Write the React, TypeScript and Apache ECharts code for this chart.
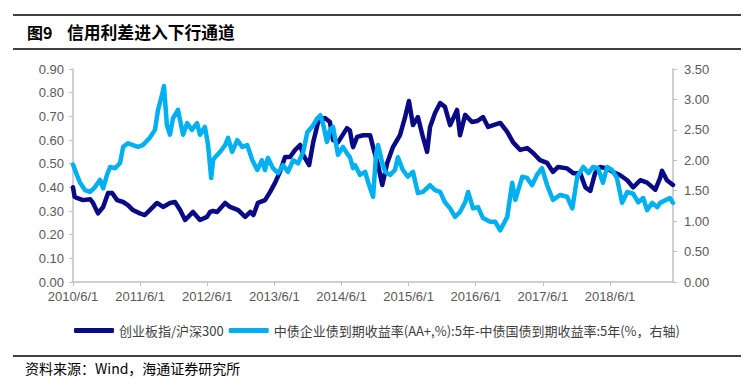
import React, { useEffect, useRef } from "react";
import * as echarts from "echarts";

const darkDates = [
  "2010-06-01","2010-06-10","2010-06-22","2010-07-25","2010-09-02","2010-09-18","2010-10-15","2010-11-12","2010-12-09","2010-12-31",
  "2011-01-27","2011-03-01","2011-03-27","2011-04-23","2011-05-31","2011-06-27","2011-07-24","2011-09-01","2011-10-04","2011-11-11",
  "2011-12-08","2012-01-05","2012-02-01","2012-03-15","2012-04-22","2012-05-30","2012-06-16","2012-07-02","2012-07-24","2012-09-06",
  "2012-10-03","2012-11-16","2012-12-24","2013-01-21","2013-02-07","2013-03-03","2013-04-11","2013-05-08","2013-06-05","2013-07-01",
  "2013-07-29","2013-08-25","2013-09-22","2013-10-19","2013-11-05","2013-12-07","2013-12-29","2014-01-25","2014-03-03","2014-03-30",
  "2014-04-16","2014-05-13","2014-07-01","2014-07-17","2014-07-28","2014-08-03","2014-08-25","2014-09-27","2014-11-04","2014-11-20",
  "2014-12-17","2015-01-09","2015-02-05","2015-03-08","2015-04-15","2015-05-12","2015-06-03","2015-06-25","2015-07-22","2015-08-18",
  "2015-09-10","2015-09-26","2015-10-23","2015-11-20","2015-12-16","2016-01-13","2016-02-20","2016-03-07","2016-04-04","2016-05-11",
  "2016-06-08","2016-07-10","2016-08-07","2016-09-04","2016-10-12","2016-11-19","2016-12-21","2017-01-29","2017-03-07","2017-04-09",
  "2017-05-16","2017-06-24","2017-07-26","2017-08-23","2017-10-11","2017-11-13","2017-12-21","2018-01-18","2018-02-14","2018-03-12",
  "2018-04-08","2018-05-16","2018-06-18","2018-07-25","2018-09-03","2018-10-05","2018-11-13","2018-12-20","2019-02-03","2019-03-01",
  "2019-03-11","2019-04-07","2019-05-10"
];
const darkValues = [
  0.40,0.36,0.355,0.346,0.35,0.334,0.29,0.317,0.376,0.376,
  0.346,0.338,0.325,0.304,0.29,0.283,0.304,0.334,0.317,0.334,
  0.338,0.304,0.262,0.296,0.262,0.275,0.296,0.30,0.296,0.334,
  0.317,0.304,0.275,0.296,0.283,0.334,0.346,0.38,0.42,0.465,
  0.528,0.528,0.558,0.579,0.536,0.494,0.59,0.676,0.693,0.676,
  0.60,0.59,0.65,0.64,0.59,0.57,0.613,0.62,0.62,0.57,
  0.494,0.41,0.503,0.57,0.62,0.693,0.765,0.663,0.697,0.613,
  0.55,0.655,0.714,0.756,0.74,0.663,0.727,0.62,0.706,0.676,
  0.68,0.697,0.655,0.663,0.672,0.634,0.59,0.558,0.566,0.545,
  0.515,0.503,0.465,0.486,0.48,0.46,0.46,0.40,0.385,0.46,
  0.486,0.48,0.465,0.452,0.43,0.40,0.43,0.42,0.39,0.44,
  0.47,0.43,0.41
];

const lightDates = [
  "2010-06-01","2010-06-22","2010-07-08","2010-08-05","2010-09-02","2010-09-29","2010-10-26","2010-11-12","2010-12-03","2010-12-20",
  "2011-01-16","2011-02-12","2011-03-01","2011-03-27","2011-04-23","2011-05-20","2011-06-16","2011-07-24","2011-08-21","2011-09-07",
  "2011-09-28","2011-10-09","2011-10-25","2011-11-11","2011-11-27","2011-12-24","2012-01-21","2012-02-12","2012-03-09","2012-04-06",
  "2012-04-22","2012-05-19","2012-06-05","2012-06-22","2012-07-02","2012-07-13","2012-08-10","2012-09-06","2012-09-22","2012-10-14",
  "2012-11-11","2012-12-08","2013-01-04","2013-02-01","2013-02-28","2013-03-25","2013-04-11","2013-04-27","2013-05-24","2013-06-21",
  "2013-07-18","2013-08-14","2013-09-11","2013-10-08","2013-11-05","2013-11-27","2013-12-23","2014-01-20","2014-02-06","2014-02-22",
  "2014-03-14","2014-03-30","2014-04-16","2014-05-13","2014-06-09","2014-07-06","2014-07-17","2014-08-03","2014-08-14","2014-09-10",
  "2014-10-08","2014-10-24","2014-11-20","2014-12-06","2014-12-17","2015-01-09","2015-01-25","2015-02-21","2015-03-19","2015-04-04",
  "2015-05-01","2015-05-28","2015-06-25","2015-07-22","2015-08-18","2015-09-26","2015-10-23","2015-11-20","2015-12-16","2016-01-13",
  "2016-02-09","2016-03-07","2016-04-04","2016-04-20","2016-05-17","2016-06-13","2016-07-10","2016-08-18","2016-09-14","2016-10-12",
  "2016-11-19","2016-12-16","2017-01-02","2017-02-09","2017-03-07","2017-04-03","2017-04-30","2017-05-27","2017-06-24","2017-07-26",
  "2017-09-03","2017-10-11","2017-11-08","2017-12-05","2018-01-07","2018-02-04","2018-03-01","2018-03-28","2018-04-24","2018-05-16",
  "2018-06-12","2018-07-09","2018-08-06","2018-09-03","2018-10-05","2018-11-02","2018-11-29","2018-12-20","2019-01-17","2019-02-14",
  "2019-03-01","2019-04-23","2019-05-10"
];
const lightValues = [
  1.93,1.76,1.64,1.51,1.48,1.56,1.68,1.54,1.76,1.89,
  1.87,1.955,2.22,2.28,2.25,2.22,2.25,2.37,2.50,2.83,
  3.07,3.22,2.58,2.42,2.69,2.83,2.42,2.61,2.50,2.61,
  2.42,2.55,2.25,1.71,2.00,2.05,2.14,2.25,2.37,2.14,
  2.33,2.22,2.25,2.00,1.84,2.00,1.84,2.04,1.87,1.79,
  1.92,1.81,2.00,1.95,2.14,2.46,2.55,2.69,2.74,2.58,
  2.30,2.50,2.55,2.09,2.22,2.09,2.05,1.87,1.92,1.76,
  1.81,1.64,1.40,2.09,2.25,1.955,1.81,1.76,1.84,2.05,
  1.84,1.73,1.81,1.46,1.48,1.59,1.51,1.48,1.31,1.21,
  1.07,1.15,1.31,1.48,1.21,1.23,1.05,0.99,0.99,0.85,
  1.07,1.63,1.35,1.73,1.71,1.59,1.76,1.87,1.59,1.35,
  1.43,1.40,1.21,1.73,1.89,1.79,1.89,1.87,1.63,1.89,
  1.84,1.71,1.30,1.48,1.45,1.31,1.38,1.18,1.30,1.23,
  1.30,1.38,1.30
];

const leftTicks = { min: 0, max: 0.9, interval: 0.1 };
const rightTicks = { min: 0, max: 3.5, interval: 0.5 };
const startDate = "2010-06-01";
const endDate = "2019-05-10";

const seriesNames = [
  "创业板指/沪深300",
  "中债企业债到期收益率(AA+,%):5年-中债国债到期收益率:5年(%，右轴)",
];
const titleNum = "图9";
const titleText = "信用利差进入下行通道";
const sourceText = "资料来源：Wind，海通证券研究所";

const YEAR_MS = 365.25 * 86400000;
const t0 = Date.parse(startDate);
const toYears = (d: string) => (Date.parse(d) - t0) / YEAR_MS;

export default function App() {
  const ref = useRef<HTMLDivElement>(null);
  useEffect(() => {
    if (!ref.current) return;
    const chart = echarts.init(ref.current, undefined, { renderer: "svg" });
    const axisFont = "'Liberation Sans', Arial, sans-serif";
    const cjk = "'Noto Sans CJK SC', 'Liberation Sans', sans-serif";
    const gray = "#595959";
    const axisLineColor = "#BFBFBF";
    chart.setOption({
      animation: false,
      backgroundColor: "#ffffff",
      grid: { left: 73, right: 81, top: 69, bottom: 106, containLabel: false },
      legend: {
        left: "center",
        top: 319,
        itemWidth: 40,
        itemHeight: 5,
        itemGap: 5,
        icon: "roundRect",
        textStyle: { fontSize: 13, color: "#404040", fontFamily: cjk },
        data: seriesNames,
      },
      xAxis: {
        type: "value",
        min: 0,
        max: toYears(endDate),
        interval: 1,
        splitLine: { show: false },
        axisLine: { lineStyle: { color: axisLineColor, width: 1.5 } },
        axisTick: { show: true, inside: false, length: 4, lineStyle: { color: axisLineColor } },
        axisLabel: {
          showMaxLabel: false,
          margin: 8,
          fontSize: 13,
          color: gray,
          fontFamily: axisFont,
          formatter: (v: number) => `${2010 + Math.round(v)}/6/1`,
        },
      },
      yAxis: [
        {
          type: "value",
          position: "left",
          min: leftTicks.min,
          max: leftTicks.max,
          interval: leftTicks.interval,
          splitLine: { show: false },
          axisLine: { show: true, lineStyle: { color: axisLineColor, width: 1.5 } },
          axisTick: { show: true, length: 4, lineStyle: { color: axisLineColor } },
          axisLabel: {
            margin: 9,
            fontSize: 13,
            color: gray,
            fontFamily: axisFont,
            formatter: (v: number) => v.toFixed(2),
          },
        },
        {
          type: "value",
          position: "right",
          min: rightTicks.min,
          max: rightTicks.max,
          interval: rightTicks.interval,
          splitLine: { show: false },
          axisLine: { show: true, lineStyle: { color: axisLineColor, width: 1.5 } },
          axisTick: { show: true, length: 4, lineStyle: { color: axisLineColor } },
          axisLabel: {
            margin: 11,
            fontSize: 13,
            color: gray,
            fontFamily: axisFont,
            formatter: (v: number) => v.toFixed(2),
          },
        },
      ],
      series: [
        {
          name: seriesNames[0],
          type: "line",
          yAxisIndex: 0,
          showSymbol: false,
          symbol: "none",
          color: "#0A0A86",
          lineStyle: { width: 4.5, color: "#0A0A86", join: "round", cap: "round" },
          data: darkDates.map((d, i) => [toYears(d), darkValues[i]]),
        },
        {
          name: seriesNames[1],
          type: "line",
          yAxisIndex: 1,
          showSymbol: false,
          symbol: "none",
          color: "#00B0F0",
          lineStyle: { width: 4.5, color: "#00B0F0", join: "round", cap: "round" },
          data: lightDates.map((d, i) => [toYears(d), lightValues[i]]),
        },
      ],
      graphic: [
        { type: "line", shape: { x1: 13, y1: 15, x2: 741, y2: 15 }, style: { stroke: "#000", lineWidth: 1.5 } },
        { type: "line", shape: { x1: 13, y1: 49, x2: 741, y2: 49 }, style: { stroke: "#000", lineWidth: 1.5 } },
        { type: "line", shape: { x1: 13, y1: 356, x2: 741, y2: 356 }, style: { stroke: "#000", lineWidth: 1.5 } },
        {
          type: "text",
          left: 27,
          top: 24,
          style: { text: titleNum, fontSize: 16, fontWeight: "bold", fill: "#000", fontFamily: cjk },
        },
        {
          type: "text",
          left: 67,
          top: 24,
          style: { text: titleText, fontSize: 16.8, fontWeight: "bold", fill: "#000", fontFamily: cjk },
        },
        {
          type: "text",
          left: 25,
          top: 361,
          style: { text: sourceText, fontSize: 14, fill: "#000", fontFamily: cjk },
        },
      ],
    });
    return () => chart.dispose();
  }, []);
  return (
    <div
      ref={ref}
      style={{ position: "fixed", left: 0, top: 0, width: 754, height: 388, background: "#fff" }}
    />
  );
}
